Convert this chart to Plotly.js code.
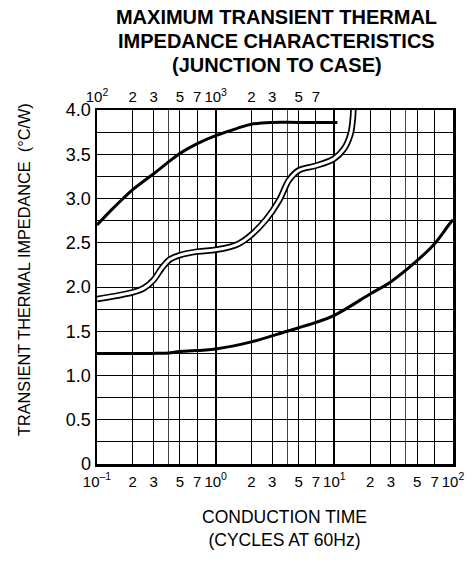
<!DOCTYPE html>
<html>
<head>
<meta charset="utf-8">
<script src="https://cdn.plot.ly/plotly-3.0.1.min.js"></script>
<style>html,body{margin:0;padding:0;background:#fff;}#chart{width:475px;height:563px;}</style>
</head>
<body>
<div id="chart"></div>
<script>
// Cycles (bottom axis, log) and impedance (degC/W)
const upperX = [0.1, 0.13, 0.166, 0.2, 0.3, 0.435, 0.5, 0.7, 1.0, 1.5, 2.0, 3.0, 5.0, 10.6];
const upperY = [2.70, 2.86, 3.0, 3.10, 3.28, 3.45, 3.51, 3.62, 3.71, 3.79, 3.84, 3.86, 3.86, 3.86];

const lowerX = [0.1, 0.2, 0.3, 0.4, 0.5, 1.0, 2.0, 4.0, 7.0, 10, 20, 30, 50, 70, 92, 100];
const lowerY = [1.25, 1.25, 1.25, 1.255, 1.27, 1.30, 1.38, 1.50, 1.60, 1.68, 1.92, 2.06, 2.30, 2.49, 2.70, 2.76];

const dblX = [0.1, 0.2, 0.25, 0.30, 0.35, 0.41, 0.50, 0.7, 1.0, 1.3, 1.57, 1.92, 2.65, 3.43, 4.16, 5.05, 6.97, 9.93, 12.05, 13.7, 14.35, 14.45];
const dblY = [1.865, 1.94, 1.99, 2.08, 2.21, 2.31, 2.36, 2.40, 2.42, 2.45, 2.49, 2.57, 2.76, 2.98, 3.21, 3.32, 3.37, 3.45, 3.56, 3.73, 3.92, 4.0];

// Bottom axis ticks / grid
const xTickVals = [0.1,0.2,0.3,0.5,0.7,1,2,3,5,7,10,20,30,50,70,100];
const xTickText = ['10<sup>–1</sup>','2','3','5','7','10<sup>0</sup>','2','3','5','7','10<sup>1</sup>','2','3','5','7','10<sup>2</sup>'];
const xMinorVals = [0.4, 4, 40];
const xDecades = [1, 10];
// Top axis labels (x1000)
const topVals = [0.1,0.2,0.3,0.5,0.7,1,2,3,5,7];
const topText = ['10<sup>2</sup>','2','3','5','7','10<sup>3</sup>','2','3','5','7'];
// Y axis
const yTickVals = [0,0.5,1,1.5,2,2.5,3,3.5,4];
const yTickText = ['0','0.5','1.0','1.5','2.0','2.5','3.0','3.5','4.0'];
const yMinorVals = [0.25,0.75,1.25,1.75,2.25,2.75,3.25,3.75];
// Title lines
const titleLines = ['MAXIMUM TRANSIENT THERMAL', 'IMPEDANCE CHARACTERISTICS', '(JUNCTION TO CASE)'];

const F = 'Liberation Sans, Arial, sans-serif';

const traces = [
  {x: upperX, y: upperY, mode: 'lines', line: {color: '#000', width: 3, shape: 'spline'}, xaxis: 'x', yaxis: 'y', hoverinfo: 'skip'},
  {x: lowerX, y: lowerY, mode: 'lines', line: {color: '#000', width: 3, shape: 'spline'}, xaxis: 'x', yaxis: 'y', hoverinfo: 'skip'},
  {x: dblX, y: dblY, mode: 'lines', line: {color: '#000', width: 6.5, shape: 'spline'}, xaxis: 'x', yaxis: 'y', hoverinfo: 'skip'},
  {x: dblX, y: dblY, mode: 'lines', line: {color: '#fff', width: 3, shape: 'spline'}, xaxis: 'x', yaxis: 'y', hoverinfo: 'skip'}
];

const titleFont = {family: F, size: 20, weight: 'bold', color: '#000'};
const H = 563, W = 475;

const layout = {
  width: W, height: H,
  margin: {l: 97, r: 22, t: 110, b: 99, pad: 0},
  paper_bgcolor: '#fff', plot_bgcolor: '#fff',
  showlegend: false,
  font: {family: F, color: '#000'},
  title: {
    text: titleLines[0],
    font: titleFont,
    xref: 'container', x: 276.5 / W, xanchor: 'center',
    yref: 'container', y: 1 - 17 / H, yanchor: 'middle'
  },
  xaxis: {
    type: 'log', range: [-1, 2],
    tickmode: 'array', tickvals: xTickVals, ticktext: xTickText,
    ticks: '', ticklabelstandoff: 2, tickfont: {family: F, size: 15, color: '#000'},
    showgrid: true, gridcolor: '#000', gridwidth: 1,
    minor: {tickmode: 'array', tickvals: xMinorVals, showgrid: true, gridcolor: '#444', gridwidth: 1, ticks: ''},
    showline: true, linecolor: '#000', linewidth: 2.5, mirror: true,
    zeroline: false, fixedrange: true
  },
  xaxis3: {
    type: 'log', range: [-1, 2], overlaying: 'x',
    tickmode: 'array', tickvals: xDecades, showticklabels: false, ticks: '',
    showgrid: true, gridcolor: '#000', gridwidth: 2.2, showline: false, zeroline: false
  },
  xaxis2: {
    type: 'log', range: [-1, 2], overlaying: 'x', side: 'top',
    tickmode: 'array', tickvals: topVals, ticktext: topText,
    ticks: '', ticklabelstandoff: 4, tickfont: {family: F, size: 15, color: '#000'},
    showgrid: false, showline: false, zeroline: false
  },
  yaxis: {
    range: [0, 4],
    tickmode: 'array', tickvals: yTickVals, ticktext: yTickText,
    ticks: '', tickfont: {family: F, size: 18, color: '#000'},
    showgrid: true, gridcolor: '#000', gridwidth: 1,
    minor: {tickmode: 'array', tickvals: yMinorVals, showgrid: true, gridcolor: '#000', gridwidth: 1, ticks: ''},
    showline: true, linecolor: '#000', linewidth: 2.5, mirror: true,
    zeroline: false, fixedrange: true
  },
  annotations: [
    {text: titleLines[1], xref: 'paper', yref: 'paper',
     x: (276.5 - 97) / 356, y: (464 - 41) / 354, xanchor: 'center', yanchor: 'middle',
     showarrow: false, font: titleFont},
    {text: titleLines[2], xref: 'paper', yref: 'paper',
     x: (276.5 - 97) / 356, y: (464 - 64.5) / 354, xanchor: 'center', yanchor: 'middle',
     showarrow: false, font: titleFont},
    {text: 'TRANSIENT THERMAL IMPEDANCE  (°C/W)', textangle: -90,
     xref: 'paper', yref: 'paper', x: (24 - 97) / 356, y: (464 - 270) / 354,
     xanchor: 'center', yanchor: 'middle', showarrow: false,
     font: {family: F, size: 16.3, color: '#000'}},
    {text: 'CONDUCTION TIME<br>(CYCLES AT 60Hz)',
     xref: 'paper', yref: 'paper', x: (284 - 97) / 356, y: -(505 - 464) / 354,
     xanchor: 'center', yanchor: 'top', showarrow: false,
     font: {family: F, size: 17.5, color: '#000'}}
  ]
};

// invisible traces to activate extra axes
traces.push({x: [1], y: [0], mode: 'markers', marker: {opacity: 0}, xaxis: 'x2', yaxis: 'y', hoverinfo: 'skip'});
traces.push({x: [1], y: [0], mode: 'markers', marker: {opacity: 0}, xaxis: 'x3', yaxis: 'y', hoverinfo: 'skip'});

Plotly.newPlot('chart', traces, layout, {staticPlot: true, displayModeBar: false});
</script>
</body>
</html>
